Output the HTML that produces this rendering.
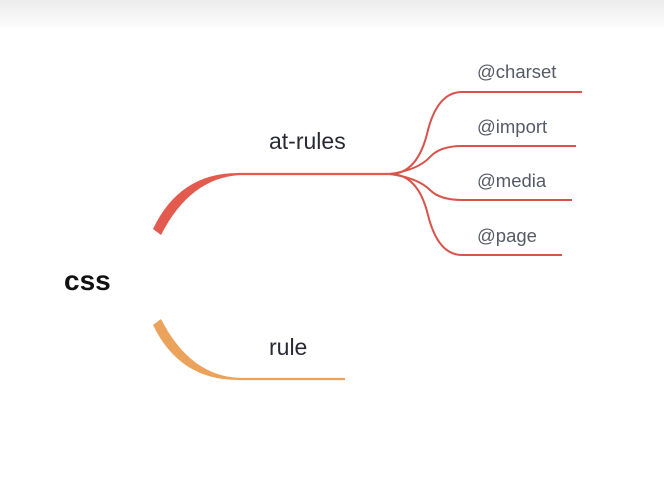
<!DOCTYPE html>
<html><head><style>
body{margin:0;width:664px;height:492px;overflow:hidden;background:#fff;font-family:"Liberation Sans",sans-serif;}
.top{position:absolute;left:0;top:0;width:664px;height:30px;background:linear-gradient(#ececec,#fafafa 80%,#fff);}
</style></head><body>
<div class="top"></div>
<svg width="664" height="492" style="position:absolute;left:0;top:0">
<path d="M153,229 Q180,172 240,173 L240,175 Q190,178 161,235 Z" fill="#e35a4e"/>
<path d="M238,174 L395,174" fill="none" stroke="#e35a4e" stroke-width="2.2"/>
<g fill="none" stroke="#d9534b" stroke-width="2">
<path d="M390,174 Q418,174 428,130 Q438,92 462,92 L582,92"/>
<path d="M390,174 Q418,170 430,157 Q440,146 462,146 L576,146"/>
<path d="M390,174 Q418,178 430,190 Q440,200 462,200 L572,200"/>
<path d="M390,174 Q418,174 428,215 Q438,255 462,255 L562,255"/>
</g>
<path d="M153,325 Q180,381 240,380 L240,378 Q190,376 161,319 Z" fill="#eba35c"/>
<path d="M238,379 L345,379" fill="none" stroke="#eba35c" stroke-width="2.2"/>
<g font-family="Liberation Sans, sans-serif">
<text x="64" y="290" font-size="28" font-weight="bold" fill="#111">css</text>
<text x="269" y="149" font-size="23" fill="#2a2a35">at-rules</text>
<text x="269" y="355" font-size="23" fill="#2a2a35">rule</text>
<g font-size="18.5" fill="#555a66">
<text x="477" y="78">@charset</text>
<text x="477" y="133">@import</text>
<text x="477" y="187">@media</text>
<text x="477" y="242">@page</text>
</g></g>
</svg>
</body></html>
